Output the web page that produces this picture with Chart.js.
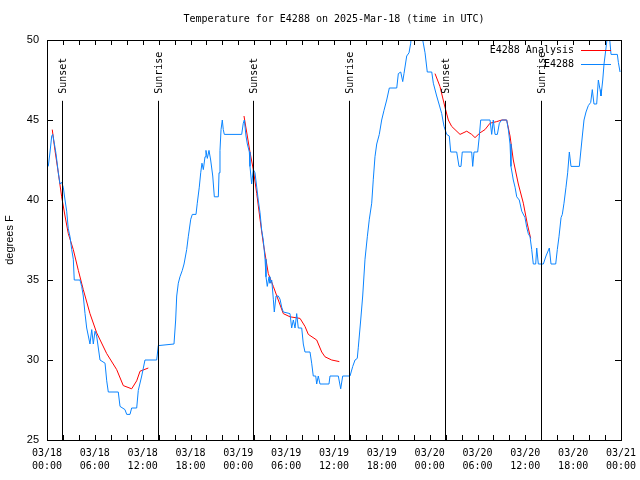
<!DOCTYPE html>
<html>
<head>
<meta charset="utf-8">
<script src="https://cdn.jsdelivr.net/npm/chart.js@4/dist/chart.umd.min.js"></script>
<style>
  html, body { margin: 0; padding: 0; background: #fff; }
  #wrap { width: 640px; height: 480px; }
</style>
</head>
<body>
<div id="wrap"><canvas id="myChart" width="640" height="480"></canvas></div>
<script>
// hours since 03/18 00:00 UTC
const obsHours = [0.16,0.38,0.59,0.72,1.00,1.13,1.42,1.63,1.84,2.04,2.26,2.47,2.67,2.89,3.10,3.30,3.42,4.14,4.35,4.55,4.77,4.98,5.39,5.61,5.81,6.02,6.23,6.65,7.28,7.49,7.69,8.94,9.16,9.78,10.00,10.41,10.62,11.25,11.45,11.88,12.29,13.76,13.96,15.93,16.14,16.27,16.47,16.68,16.97,17.19,17.52,17.72,18.03,18.23,18.69,18.85,19.10,19.28,19.44,19.61,19.82,19.94,20.11,20.32,20.53,20.79,20.99,21.49,21.58,21.70,21.83,21.99,22.11,22.24,24.42,24.62,24.75,24.96,25.13,25.38,25.46,25.67,25.88,26.09,26.31,26.50,26.72,26.93,27.13,27.35,27.47,27.63,27.85,27.97,28.19,28.39,28.51,28.73,29.01,29.23,29.44,29.64,30.48,30.69,30.90,31.11,31.32,31.52,31.95,32.15,32.36,32.99,33.20,33.40,33.71,33.83,34.03,34.24,35.37,35.50,36.54,36.84,37.09,38.01,38.35,38.64,38.92,39.05,39.35,39.60,39.89,40.18,40.43,40.73,40.93,41.14,41.36,41.68,41.98,42.27,42.61,42.94,43.87,44.07,44.37,44.62,44.78,45.12,45.41,45.62,45.75,46.04,46.29,47.13,47.42,47.70,48.26,48.46,48.88,49.17,49.51,49.80,50.14,50.46,50.64,51.39,51.68,51.93,52.09,53.27,53.40,53.56,54.02,54.23,54.40,55.57,55.78,55.98,56.20,56.49,56.74,57.04,57.66,57.87,58.08,58.20,58.49,58.71,58.92,59.24,59.55,59.96,60.17,60.37,60.59,60.80,61.00,61.30,61.43,61.63,62.26,62.59,63.01,63.22,63.81,64.01,64.22,64.48,64.64,64.85,65.10,65.31,65.52,65.73,66.77,66.95,67.15,67.36,67.61,67.90,68.20,68.40,68.61,68.95,69.16,69.37,69.49,69.71,69.87,70.12,70.28,70.50,70.75,71.54,71.67,71.88];
const obsTemps = [42.1,43.0,44.0,44.1,43.3,42.9,41.7,41.0,41.1,40.8,40.0,39.3,38.2,37.7,36.9,36.3,35.0,35.0,34.6,34.0,32.9,32.0,31.0,31.9,31.0,31.8,31.5,30.0,29.8,28.7,28.0,28.0,27.1,26.9,26.6,26.6,27.0,27.0,28.1,29.0,30.0,30.0,30.9,31.0,32.5,34.0,34.8,35.2,35.6,36.0,36.9,37.7,38.8,39.1,39.1,39.8,40.8,41.7,42.3,41.9,42.7,43.1,42.6,43.1,42.5,41.5,40.2,40.2,41.7,43.1,44.4,45.0,44.4,44.1,44.1,44.8,45.0,44.0,43.5,43.0,42.1,41.0,41.9,41.7,40.8,40.0,39.2,38.1,37.5,36.3,35.2,34.6,35.2,34.8,35.0,33.8,33.0,34.0,34.0,33.8,33.3,33.0,32.9,32.0,32.5,32.0,32.9,32.0,32.0,31.0,30.5,30.5,29.8,29.0,29.0,28.5,29.0,28.5,28.5,29.0,29.0,28.2,29.0,29.0,29.6,30.0,30.1,30.8,32.5,34.0,36.3,37.7,38.8,39.8,41.3,42.7,43.5,44.1,45.0,45.6,46.25,47.0,47.0,47.9,48.0,47.4,47.9,49.0,49.2,49.8,50.5,50.0,50.5,50.0,49.2,48.0,48.0,47.3,46.5,46.0,45.4,44.6,44.1,44.0,43.0,43.0,42.1,42.1,43.0,43.0,42.1,43.0,43.0,44.0,45.0,45.0,44.1,45.0,44.1,44.1,44.8,45.0,45.0,44.4,43.5,42.1,41.25,40.8,40.2,40.0,39.3,38.9,38.3,37.9,37.7,36.9,36.0,36.0,37.0,36.0,36.0,36.5,37.0,36.0,36.0,36.9,37.7,38.9,39.1,39.8,40.8,41.7,43.0,42.1,42.1,43.0,44.0,45.0,45.5,45.9,46.1,46.9,46.0,46.0,47.5,46.9,46.5,47.5,48.5,49.5,50.2,50.5,49.1,49.1,48.6,48.0];

// analysis runs, null breaks the line between runs
const anaHours = [0.66,1.00,1.42,1.84,2.26,2.67,3.30,3.93,4.55,5.39,6.23,7.49,8.74,9.57,10.62,11.25,11.67,12.71, 18.0,
  24.71,25.46,25.88,26.31,26.72,27.13,27.56,27.76,28.39,29.01,29.64,30.48,31.74,32.36,32.78,33.83,34.46,34.87,35.71,36.67, 42.0,
  48.67,49.29,49.92,50.34,50.76,51.18,51.81,52.65,53.27,53.69,54.32,54.94,55.57,56.41,57.04,57.66,58.08,58.49,59.12,59.75,60.25,60.67];
const anaTemps = [44.4,43.1,41.7,40.2,39.0,37.9,36.9,35.6,34.4,32.9,31.7,30.4,29.4,28.4,28.2,28.7,29.3,29.5, null,
  45.25,43.0,41.9,40.4,38.8,37.3,36.0,35.4,34.6,33.75,32.9,32.7,32.6,32.1,31.6,31.25,30.5,30.2,30.0,29.9, null,
  47.9,47.1,45.8,45.0,44.6,44.4,44.1,44.3,44.1,43.9,44.2,44.4,44.8,44.9,45.0,45.0,44.0,42.5,41.0,39.8,38.5,37.6];

const sunHours = [1.88, 13.93, 25.85, 37.90, 49.90, 62.00];
const sunLabels = ['Sunset', 'Sunrise', 'Sunset', 'Sunrise', 'Sunset', 'Sunrise'];

const xTickHours = [0, 6, 12, 18, 24, 30, 36, 42, 48, 54, 60, 66, 72];
const xTickDates = ['03/18','03/18','03/18','03/18','03/19','03/19','03/19','03/19','03/20','03/20','03/20','03/20','03/21'];
const xTickTimes = ['00:00','06:00','12:00','18:00','00:00','06:00','12:00','18:00','00:00','06:00','12:00','18:00','00:00'];
const yTicks = [25, 30, 35, 40, 45, 50];

const mono = '"DejaVu Sans Mono", "Liberation Mono", monospace';
const sans = '"Liberation Sans", Arial, sans-serif';
const blue = '#0a84ff';

const gnuplotLook = {
  id: 'gnuplotLook',
  afterDatasetsDraw(chart) {
    const c = chart.ctx, a = chart.chartArea;
    const xs = chart.scales.x, ys = chart.scales.y;
    c.save();
    c.lineWidth = 1;
    c.strokeStyle = '#000';

    // sunrise / sunset markers
    c.font = '10px ' + mono;
    c.fillStyle = '#000';
    const lineTop = ys.getPixelForValue(46.2);
    for (let i = 0; i < sunHours.length; i++) {
      const px = Math.round(xs.getPixelForValue(sunHours[i])) + 0.5;
      c.beginPath();
      c.moveTo(px, lineTop);
      c.lineTo(px, a.bottom);
      c.stroke();
      c.save();
      c.translate(px + 1, lineTop - 7);
      c.rotate(-Math.PI / 2);
      c.textAlign = 'left';
      c.textBaseline = 'middle';
      c.fillText(sunLabels[i], 0, 0);
      c.restore();
    }

    // border
    c.strokeRect(Math.round(a.left) + 0.5, Math.round(a.top) + 0.5, Math.round(a.right - a.left), Math.round(a.bottom - a.top));

    // inward ticks, 2h minor on x, mirrored
    c.beginPath();
    for (let h = 0; h <= 72; h += 2) {
      const px = Math.round(xs.getPixelForValue(h)) + 0.5;
      c.moveTo(px, a.bottom); c.lineTo(px, a.bottom - 5);
      c.moveTo(px, a.top); c.lineTo(px, a.top + 5);
    }
    yTicks.forEach(v => {
      const py = Math.round(ys.getPixelForValue(v)) + 0.5;
      c.moveTo(a.left, py); c.lineTo(a.left + 6, py);
      c.moveTo(a.right, py); c.lineTo(a.right - 6, py);
    });
    c.stroke();

    // legend, top right inside
    c.font = '10px ' + mono;
    c.textAlign = 'right';
    c.textBaseline = 'middle';
    const entries = [['E4288 Analysis', 'red'], ['E4288', blue]];
    entries.forEach((e, i) => {
      const y = a.top + 10 + i * 14;
      c.fillStyle = '#000';
      c.fillText(e[0], a.right - 47, y);
      c.strokeStyle = e[1];
      c.beginPath();
      c.moveTo(a.right - 40, y + 0.5);
      c.lineTo(a.right - 10, y + 0.5);
      c.stroke();
    });

    // title and y label
    c.fillStyle = '#000';
    c.textAlign = 'center';
    c.font = '10px ' + mono;
    c.fillText('Temperature for E4288 on 2025-Mar-18 (time in UTC)', (a.left + a.right) / 2, 19);
    c.save();
    c.translate(10, (a.top + a.bottom) / 2);
    c.rotate(-Math.PI / 2);
    c.font = '11px ' + sans;
    c.fillText('degrees F', 0, 0);
    c.restore();
    c.restore();
  }
};

new Chart(document.getElementById('myChart'), {
  type: 'line',
  data: {
    datasets: [
      {
        label: 'E4288',
        data: obsHours.map((h, i) => ({ x: h, y: obsTemps[i] })),
        borderColor: blue,
        borderWidth: 1,
        pointRadius: 0,
        tension: 0,
        clip: 0
      },
      {
        label: 'E4288 Analysis',
        data: anaHours.map((h, i) => ({ x: h, y: anaTemps[i] })),
        borderColor: 'red',
        borderWidth: 1,
        pointRadius: 0,
        tension: 0,
        spanGaps: false,
        clip: 0
      }
    ]
  },
  options: {
    responsive: false,
    animation: false,
    layout: { padding: { left: 0, top: 40, right: 19, bottom: 0 } },
    scales: {
      x: {
        type: 'linear',
        min: 0,
        max: 72,
        afterBuildTicks: s => { s.ticks = xTickHours.map(v => ({ value: v })); },
        afterFit: s => { s.height = 40; s.paddingLeft = 0; s.paddingRight = 0; },
        grid: { display: false, drawTicks: false },
        border: { display: false },
        ticks: {
          autoSkip: false,
          maxRotation: 0,
          padding: 7,
          color: '#000',
          font: { family: mono, size: 10, lineHeight: 1.3 },
          callback: (v) => {
            const i = xTickHours.indexOf(v);
            return i < 0 ? '' : [xTickDates[i], xTickTimes[i]];
          }
        }
      },
      y: {
        min: 25,
        max: 50,
        afterBuildTicks: s => { s.ticks = yTicks.map(v => ({ value: v })); },
        afterFit: s => { s.width = 47; s.paddingTop = 0; s.paddingBottom = 0; },
        grid: { display: false, drawTicks: false },
        border: { display: false },
        ticks: {
          padding: 8,
          color: '#000',
          font: { family: sans, size: 11 }
        }
      }
    },
    plugins: {
      legend: { display: false },
      tooltip: { enabled: false }
    }
  },
  plugins: [gnuplotLook]
});
</script>
</body>
</html>
